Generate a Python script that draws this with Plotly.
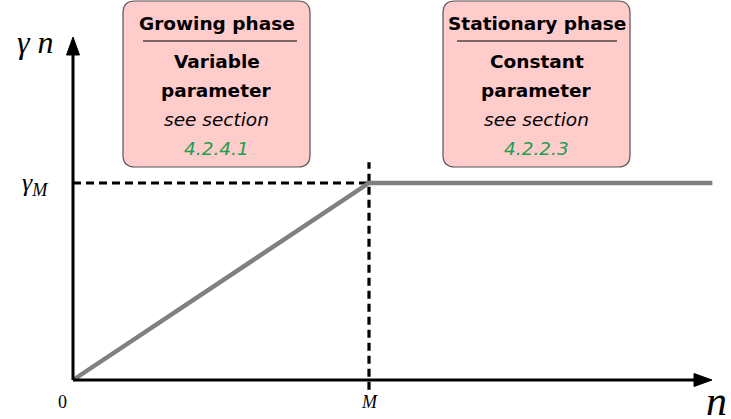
import plotly.graph_objects as go

# ---- data (data units: M = 1, gamma_M = 1) ----
n_values = [0.0, 1.0, 2.16]
gamma_values = [0.0, 1.0, 1.0]
M_value = 1.0
gammaM_value = 1.0
x_tick_labels = ["0", "<i>M</i>"]
box_headers = ["Growing phase", "Stationary phase"]
box_lines = [["Variable", "parameter"], ["Constant", "parameter"]]
box_refs = ["4.2.4.1", "4.2.2.3"]

W, H = 731, 419
ox, oy = 73, 380          # origin pixel
ux, uy = 296, 197         # pixels per data unit
xr = [-ox / ux, (W - ox) / ux]
yr = [-(H - oy) / uy, oy / uy]

def PX(px):
    return px / W

def PY(py):
    return 1 - py / H

fig = go.Figure()

# dashed guides
dash = "8px,5px"
fig.add_trace(go.Scatter(
    x=[0, M_value], y=[gammaM_value, gammaM_value], mode="lines",
    line=dict(color="black", width=3.2, dash=dash), showlegend=False, hoverinfo="skip"))
fig.add_trace(go.Scatter(
    x=[M_value, M_value], y=[-0.05, 1.105], mode="lines",
    line=dict(color="black", width=3.2, dash=dash), showlegend=False, hoverinfo="skip"))

fig.add_trace(go.Scatter(
    x=n_values, y=gamma_values, mode="lines",
    line=dict(color="#808080", width=4.5), hoverinfo="skip", showlegend=False))

shapes = []
annotations = []

# axes with arrowheads (decoration, pixel based)
shapes.append(dict(type="line", xref="paper", yref="paper", x0=PX(73), x1=PX(698), y0=PY(380), y1=PY(380),
                   line=dict(color="black", width=3), layer="above"))
shapes.append(dict(type="line", xref="paper", yref="paper", x0=PX(73), x1=PX(73), y0=PY(380), y1=PY(52),
                   line=dict(color="black", width=3), layer="above"))
shapes.append(dict(type="path", xref="paper", yref="paper",
                   path=f"M {PX(694)},{PY(373.5)} L {PX(712)},{PY(380)} L {PX(694)},{PY(386.5)} Z",
                   fillcolor="black", line=dict(color="black", width=1), layer="above"))
shapes.append(dict(type="path", xref="paper", yref="paper",
                   path=f"M {PX(66.5)},{PY(55)} L {PX(73)},{PY(37)} L {PX(79.5)},{PY(55)} Z",
                   fillcolor="black", line=dict(color="black", width=1), layer="above"))

serif = "Liberation Serif"
def ann(px, py, text, size, family, color="black"):
    annotations.append(dict(x=PX(px), y=PY(py), xref="paper", yref="paper", text=text, showarrow=False,
                            xanchor="center", yanchor="middle",
                            font=dict(family=family, size=size, color=color)))

ann(35, 42, "<i>γ n</i>", 32, serif)
ann(35, 184, "<i>γ<sub>M</sub></i>", 26, serif)
ann(62, 402, x_tick_labels[0], 18, serif)
ann(369, 402, x_tick_labels[1], 18, serif)
ann(716, 401, "<i>n</i>", 42, serif)

def rounded_rect(x0, y0, x1, y1, r):
    rx, ry = r / W, r / H
    X0, X1 = PX(x0), PX(x1)
    Y0, Y1 = PY(y0), PY(y1)
    return (f"M {X0+rx},{Y0} L {X1-rx},{Y0} Q {X1},{Y0} {X1},{Y0-ry} "
            f"L {X1},{Y1+ry} Q {X1},{Y1} {X1-rx},{Y1} L {X0+rx},{Y1} "
            f"Q {X0},{Y1} {X0},{Y1+ry} L {X0},{Y0-ry} Q {X0},{Y0} {X0+rx},{Y0} Z")

sans = "DejaVu Sans"
fs = 18.5
boxes = [(123, 310), (443, 630)]
underl = [(143, 297), (457, 617)]
for i, (bx0, bx1) in enumerate(boxes):
    shapes.append(dict(type="path", path=rounded_rect(bx0, 1, bx1, 167, 12), xref="paper", yref="paper",
                       fillcolor="#FFCCCC", line=dict(color="#555555", width=1.2), layer="above"))
    shapes.append(dict(type="line", xref="paper", yref="paper", x0=PX(underl[i][0]), x1=PX(underl[i][1]),
                       y0=PY(41), y1=PY(41), line=dict(color="black", width=1.2), layer="above"))
    cx = (bx0 + bx1) / 2
    ann(cx, 24, f"<b>{box_headers[i]}</b>", fs, sans)
    ann(cx, 62, f"<b>{box_lines[i][0]}</b>", fs, sans)
    ann(cx, 90, f"<b>{box_lines[i][1]}</b>", fs, sans)
    ann(cx, 120, "<i>see section</i>", fs, sans)
    ann(cx, 148, f"<i>{box_refs[i]}</i>", fs, sans, "#1E9E50")

fig.update_layout(
    width=W, height=H, autosize=False,
    margin=dict(l=0, r=0, t=0, b=0),
    paper_bgcolor="white", plot_bgcolor="white",
    xaxis=dict(range=xr, visible=False, fixedrange=True),
    yaxis=dict(range=yr, visible=False, fixedrange=True),
    shapes=shapes, annotations=annotations, showlegend=False,
)

fig.write_html("out.html", config={"displayModeBar": False},
               post_script="document.body.style.margin='0';document.body.style.overflow='hidden';")
